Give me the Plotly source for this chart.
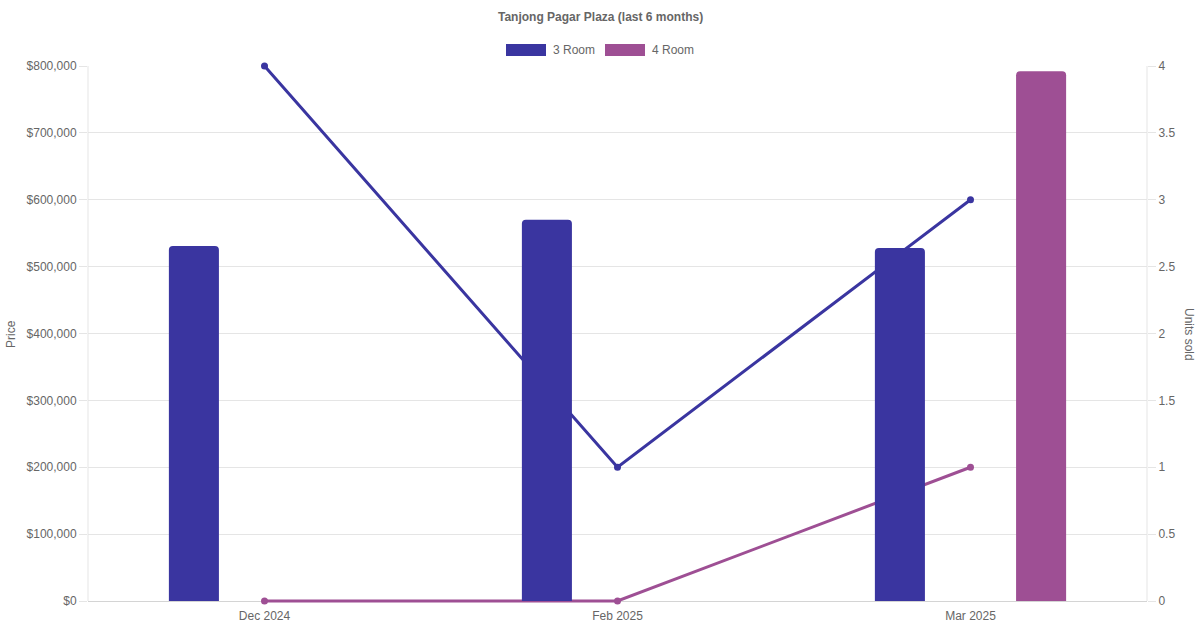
import plotly.graph_objects as go

months = ["Dec 2024", "Feb 2025", "Mar 2025"]
price_3room = [531000, 570000, 528000]
price_4room = [None, None, 792000]
units_3room = [4, 1, 3]
units_4room = [0, 0, 1]
series_names = ["3 Room", "4 Room"]
price_ticks = [0, 100000, 200000, 300000, 400000, 500000, 600000, 700000, 800000]
unit_ticks = [0, 0.5, 1, 1.5, 2, 2.5, 3, 3.5, 4]

C3 = "#3a35a0"
C4 = "#9e4f94"
GRID = "#e5e5e5"
TXT = "#666666"
FONT = "Liberation Sans, Arial, Helvetica, sans-serif"

fig = go.Figure()

# lines (units sold) on the main y axis (drawn underneath the bars)
fig.add_trace(go.Scatter(x=months, y=units_3room, name=series_names[0] + " units",
                         mode="lines+markers", yaxis="y", xaxis="x", cliponaxis=False,
                         line=dict(color=C3, width=3), marker=dict(color=C3, size=7),
                         showlegend=False))
fig.add_trace(go.Scatter(x=months, y=units_4room, name=series_names[1] + " units",
                         mode="lines+markers", yaxis="y", xaxis="x", cliponaxis=False,
                         line=dict(color=C4, width=3), marker=dict(color=C4, size=7),
                         showlegend=False))

bw = 50 / 352.67
fig.add_trace(go.Bar(x=months, y=price_3room, name=series_names[0], yaxis="y2",
                     marker=dict(color=C3, line=dict(width=0)),
                     width=bw, offset=-0.2 - bw / 2, showlegend=False))
fig.add_trace(go.Bar(x=months, y=price_4room, name=series_names[1], yaxis="y2",
                     marker=dict(color=C4, line=dict(width=0)),
                     width=bw, offset=0.2 - bw / 2, showlegend=False))

price_labels = ["$" + format(v, ",") for v in price_ticks]

# plot area extends 3px below the zero line so the zero-valued line is not cut
EXT = 3
unit_pad = 4 / 535 * EXT
price_pad = 800000 / 535 * EXT

fig.update_layout(
    width=1200, height=630,
    margin=dict(l=88, r=53, t=66, b=29 - EXT, autoexpand=False),
    paper_bgcolor="white", plot_bgcolor="white",
    font=dict(family=FONT, size=12, color=TXT),
    barmode="overlay",
    barcornerradius=4,
    showlegend=False,
    xaxis=dict(type="category", range=[-0.5, 2.5], showgrid=False,
               showline=False,
               ticks="", ticklabelstandoff=6 - EXT, tickfont=dict(size=12, color=TXT),
               zeroline=False),
    yaxis=dict(side="right", range=[-unit_pad, 4], tickvals=unit_ticks,
               showgrid=True, gridcolor=GRID, gridwidth=1,
               zeroline=True, zerolinecolor="#d4d4d4", zerolinewidth=1,
               showline=False,
               ticks="outside", ticklen=8, tickcolor=GRID, tickwidth=1,
               tickfont=dict(size=12, color=TXT)),
    yaxis2=dict(side="left", overlaying="y", range=[-price_pad, 800000], tickvals=price_ticks,
                ticktext=price_labels, showgrid=False, zeroline=False,
                showline=False,
                ticks="outside", ticklen=8, tickcolor=GRID, tickwidth=1,
                tickfont=dict(size=12, color=TXT)),
)

# position helpers in pixel -> paper coordinates
W, H = 1200, 630
L, R, T, B = 88, 53, 66, 29 - EXT
pw, ph = W - L - R, H - T - B
def px(xp):
    return (xp - L) / pw
def py(yp):
    return (H - B - yp) / ph

fig.update_layout(
    annotations=[
        dict(text="<b>Tanjong Pagar Plaza (last 6 months)</b>", x=px(600), y=py(17),
             xref="paper", yref="paper", showarrow=False, xanchor="center", yanchor="middle",
             font=dict(size=12, color=TXT, family=FONT)),
        dict(text="Price", xref="paper", yref="paper", x=px(11), y=py(334),
             xanchor="center", yanchor="middle",
             textangle=-90, showarrow=False, font=dict(size=12, color=TXT)),
        dict(text="Units sold", xref="paper", yref="paper", x=px(1189), y=py(334),
             xanchor="center", yanchor="middle",
             textangle=90, showarrow=False, font=dict(size=12, color=TXT)),
        dict(text=series_names[0], xref="paper", yref="paper", x=px(551), y=py(50),
             xanchor="left", yanchor="middle", showarrow=False,
             font=dict(size=12, color=TXT)),
        dict(text=series_names[1], xref="paper", yref="paper", x=px(650), y=py(50),
             xanchor="left", yanchor="middle", showarrow=False,
             font=dict(size=12, color=TXT)),
    ],
    shapes=[
        dict(type="rect", xref="paper", yref="paper", x0=px(506), x1=px(546),
             y0=py(56), y1=py(44), fillcolor=C3, line=dict(width=0)),
        dict(type="rect", xref="paper", yref="paper", x0=px(605), x1=px(645),
             y0=py(56), y1=py(44), fillcolor=C4, line=dict(width=0)),
        # vertical axis border lines (from top of plot to zero line)
        dict(type="line", xref="paper", yref="y", x0=0, x1=0, y0=0, y1=4,
             line=dict(color=GRID, width=1), layer="below"),
        dict(type="line", xref="paper", yref="y", x0=1, x1=1, y0=0, y1=4,
             line=dict(color=GRID, width=1), layer="below"),
    ],
)

fig.write_html("out.html", config={"displayModeBar": False},
               post_script="document.body.style.margin='0';document.body.style.overflow='hidden';")
